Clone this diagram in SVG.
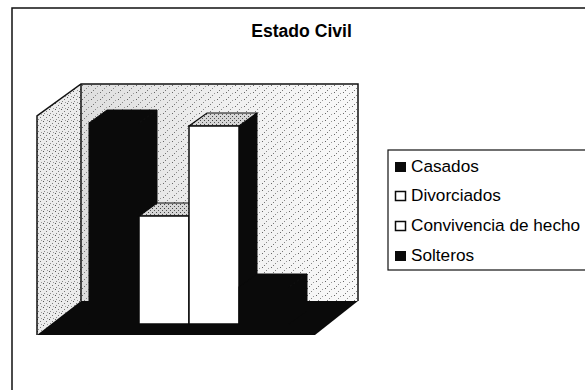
<svg xmlns="http://www.w3.org/2000/svg" width="585" height="390" viewBox="0 0 585 390">
<style>
  text { font-family: "Liberation Sans", Arial, sans-serif; fill: #000; }
  .title { font-size: 17.6px; font-weight: bold; }
  .leg { font-size: 17.2px; }
  .edge { fill: none; stroke: #111; stroke-width: 1.5; }
  .blk { fill: #0a0a0a; stroke: #0a0a0a; stroke-width: 1; }
  .wfront { fill: #ffffff; stroke: #0a0a0a; stroke-width: 1.5; }
  .wtop { fill: url(#speckTop); stroke: #0a0a0a; stroke-width: 1.2; }
</style>
<defs>
  <pattern id="speck" width="9" height="7" patternUnits="userSpaceOnUse">
    <rect x="1" y="1" width="1" height="1" fill="#666"/>
    <rect x="5" y="4" width="1" height="1" fill="#888"/>
    <rect x="7" y="2" width="1" height="1" fill="#999"/>
    <rect x="3" y="6" width="1" height="1" fill="#777"/>
  </pattern>
  <pattern id="speckDense" width="6" height="6" patternUnits="userSpaceOnUse">
    <rect width="6" height="6" fill="#ececec"/>
    <rect x="1" y="1" width="1" height="1" fill="#555"/>
    <rect x="4" y="3" width="1" height="1" fill="#777"/>
    <rect x="2" y="5" width="1" height="1" fill="#888"/>
    <rect x="5" y="0" width="1" height="1" fill="#999"/>
  </pattern>
  <pattern id="speckTop" width="4" height="4" patternUnits="userSpaceOnUse">
    <rect width="4" height="4" fill="#d6d6d6"/>
    <rect x="0" y="0" width="1" height="1" fill="#444"/>
    <rect x="2" y="2" width="1" height="1" fill="#555"/>
  </pattern>
  <linearGradient id="wallGrad" x1="0" y1="0" x2="1" y2="0">
    <stop offset="0" stop-color="#dedede"/>
    <stop offset="0.5" stop-color="#efefef"/>
    <stop offset="1" stop-color="#f9f9f9"/>
  </linearGradient>
</defs>

<rect x="0" y="0" width="585" height="390" fill="#ffffff"/>

<!-- outer chart border (right and bottom fall outside the picture) -->
<rect id="chart-border" x="12" y="8" width="600" height="400" fill="none" stroke="#111" stroke-width="1.5"/>

<g id="title">
  <text class="title" x="301.5" y="37" text-anchor="middle">Estado Civil</text>
</g>

<g id="plot-walls">
  <!-- back wall -->
  <polygon points="81,84 358,84 358,301 81,301" fill="url(#wallGrad)"/>
  <polygon points="81,84 358,84 358,301 81,301" fill="url(#speck)"/>
  <!-- left wall -->
  <polygon points="37,116 81,84 81,301 37,335" fill="url(#speckDense)"/>
  <!-- floor -->
  <polygon points="37,335 81,301 358,301 315,335" fill="#0a0a0a"/>
  <!-- edges -->
  <polyline class="edge" points="37,335 37,116 81,84 358,84 358,301"/>
  <line class="edge" x1="81" y1="84" x2="81" y2="301" stroke-width="2"/>
</g>

<g id="bar-casados">
  <polygon class="blk" points="139,123 157,110 157,311 139,324"/>
  <polygon class="blk" points="89,123 139,123 157,110 107,110"/>
  <rect class="blk" x="89" y="123" width="50" height="201"/>
</g>

<g id="bar-divorciados">
  <polygon class="blk" points="189,216 207,203 207,311 189,324"/>
  <polygon class="wtop" points="139,216 189,216 207,203 157,203"/>
  <rect class="wfront" x="139" y="216" width="50" height="108"/>
</g>

<g id="bar-convivencia">
  <polygon class="blk" points="239,126 257,113 257,311 239,324"/>
  <polygon class="wtop" points="189,126 239,126 257,113 207,113"/>
  <rect class="wfront" x="189" y="126" width="50" height="198"/>
</g>

<g id="bar-solteros">
  <polygon class="blk" points="289,287 307,274 307,311 289,324"/>
  <polygon class="blk" points="239,287 289,287 307,274 257,274"/>
  <rect class="blk" x="239" y="287" width="50" height="37"/>
</g>

<g id="legend">
  <rect x="388" y="150" width="220" height="120" fill="#ffffff" stroke="#111" stroke-width="1.2"/>
  <g id="legend-casados">
    <rect x="395.5" y="162.5" width="10" height="9" fill="#0a0a0a" stroke="#0a0a0a" stroke-width="1"/>
    <text class="leg" x="411" y="172">Casados</text>
  </g>
  <g id="legend-divorciados">
    <rect x="395.5" y="191.5" width="10" height="9" fill="#ffffff" stroke="#0a0a0a" stroke-width="1.5"/>
    <text class="leg" x="411" y="201">Divorciados</text>
  </g>
  <g id="legend-convivencia">
    <rect x="395.5" y="221.5" width="10" height="9" fill="#ffffff" stroke="#0a0a0a" stroke-width="1.5"/>
    <text class="leg" x="411" y="231">Convivencia de hecho</text>
  </g>
  <g id="legend-solteros">
    <rect x="395.5" y="251.5" width="10" height="9" fill="#0a0a0a" stroke="#0a0a0a" stroke-width="1"/>
    <text class="leg" x="411" y="261">Solteros</text>
  </g>
</g>
</svg>
